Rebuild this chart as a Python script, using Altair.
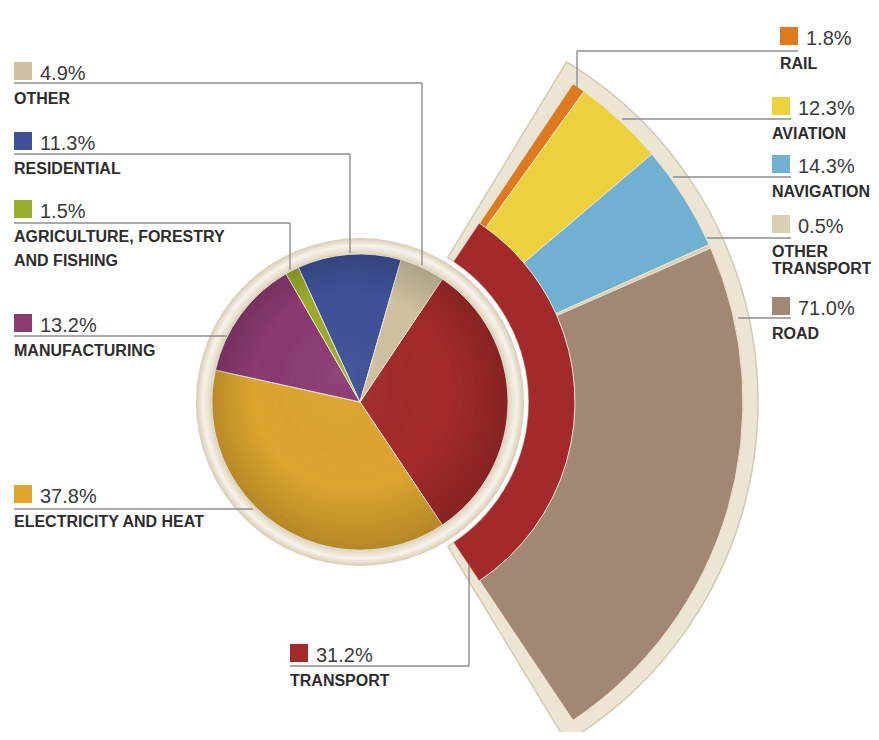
import math
import altair as alt
import pandas as pd

# ---------------- data ----------------
pie_cats = ["TRANSPORT", "ELECTRICITY AND HEAT", "MANUFACTURING",
            "AGRICULTURE, FORESTRY AND FISHING", "RESIDENTIAL", "OTHER"]
pie_vals = [31.2, 37.8, 13.2, 1.5, 11.3, 4.9]
pie_colors = ["#a32a2b", "#dca52e", "#8b3a72", "#9bab2b", "#3e5197", "#cfc1a1"]

fan_cats = ["RAIL", "AVIATION", "NAVIGATION", "OTHER TRANSPORT", "ROAD"]
fan_vals = [1.8, 12.3, 14.3, 0.5, 71.0]
fan_colors = ["#de7a1e", "#ecd13c", "#70b1d1", "#d9cfb3", "#a28873"]

# label texts
lab_pct = ["4.9%", "11.3%", "1.5%", "13.2%", "37.8%", "31.2%",
           "1.8%", "12.3%", "14.3%", "0.5%", "71.0%"]
lab_lines = [["OTHER"], ["RESIDENTIAL"], ["AGRICULTURE, FORESTRY", "AND FISHING"],
             ["MANUFACTURING"], ["ELECTRICITY AND HEAT"], ["TRANSPORT"],
             ["RAIL"], ["AVIATION"], ["NAVIGATION"], ["OTHER", "TRANSPORT"], ["ROAD"]]
lab_colors = ["#cfc1a1", "#3e5197", "#9bab2b", "#8b3a72", "#dca52e", "#a32a2b",
              "#de7a1e", "#ecd13c", "#70b1d1", "#d9cfb3", "#a28873"]

# ---------------- layout (page pixels) ----------------
M = 8
CX, CY = 360 - M, 402 - M
PIE_R, RIM_R = 148, 164
BAND_R0, BAND_R1 = 169, 215
FAN_R1 = 383
FRAME_R0, FRAME_R1 = 169, 398

lab_sx = [14, 14, 14, 14, 14, 290, 780, 772, 772, 772, 772]
lab_base = [80, 150, 218, 332, 503, 662, 45, 115, 173, 233, 315]
lab_gap2 = [24, 24, 24, 24, 24, 24, 17, 17, 17, 17, 17]
lab_leader = [
    [(14, 83), (422, 83), (422, 265)],
    [(14, 154), (350, 154), (350, 253)],
    [(14, 223), (290, 223), (290, 270)],
    [(14, 336), (227, 336)],
    [(14, 509), (253, 509)],
    [(290, 666), (469, 666), (469, 565)],
    [(798, 51), (577, 51), (577, 87)],
    [(791, 119), (622, 119)],
    [(791, 177), (673, 177)],
    [(791, 238), (707, 238)],
    [(791, 318), (738, 318)],
]

total = sum(pie_vals)
span = 2 * math.pi * pie_vals[0] / total
T0 = math.pi / 2 - span / 2
T1 = math.pi / 2 + span / 2
EXT = math.radians(2.5)

pie_df = pd.DataFrame({"cat": pie_cats, "val": pie_vals, "ord": list(range(len(pie_cats)))})
fan_df = pd.DataFrame({"cat": fan_cats, "val": fan_vals, "ord": list(range(len(fan_cats)))})
one = pd.DataFrame({"k": [0]})

center = dict(x=alt.value(CX), y=alt.value(CY))

# fan frame
frame = alt.Chart(one).mark_arc(
    innerRadius=FRAME_R0, outerRadius=FRAME_R1, theta=T0 - EXT, theta2=T1 + EXT,
    fill="#ece5d3", stroke="#d3c9b0", strokeWidth=1.5
).encode(**center)

band = alt.Chart(pie_df).transform_filter(alt.datum.cat == "TRANSPORT").mark_arc(
    innerRadius=BAND_R0, outerRadius=BAND_R1, theta=T0, theta2=T1, stroke="#b23030", strokeWidth=0.5
).encode(color=alt.Color("cat:N", scale=alt.Scale(domain=pie_cats, range=pie_colors), legend=None), **center)

fan = alt.Chart(fan_df).mark_arc(
    innerRadius=BAND_R1, outerRadius=FAN_R1, stroke="#ece4d0", strokeWidth=1
).encode(
    theta=alt.Theta("val:Q", stack=True,
                    scale=alt.Scale(domain=[0, sum(fan_vals)], range=[T0, T1])),
    color=alt.Color("cat:N", scale=alt.Scale(domain=fan_cats, range=fan_colors), legend=None),
    order=alt.Order("ord:Q"),
    **center,
)

rim_grad = alt.RadialGradient(
    gradient="radial", x1=0.5, y1=0.5, x2=0.5, y2=0.5, r1=0, r2=0.5,
    stops=[
        alt.GradientStop(color="#cfc5ad", offset=0.89),
        alt.GradientStop(color="#e6dfcc", offset=0.92),
        alt.GradientStop(color="#f7f3ea", offset=0.955),
        alt.GradientStop(color="#d6ccb3", offset=1.0),
    ],
)
pie_rim = alt.Chart(one).mark_arc(
    innerRadius=PIE_R - 2, outerRadius=RIM_R, theta=0, theta2=2 * math.pi, fill=rim_grad
).encode(**center)

pie = alt.Chart(pie_df).mark_arc(
    outerRadius=PIE_R, stroke="#eee6d4", strokeWidth=1
).encode(
    theta=alt.Theta("val:Q", stack=True,
                    scale=alt.Scale(domain=[0, total], range=[T0, T0 + 2 * math.pi])),
    color=alt.Color("cat:N", scale=alt.Scale(domain=pie_cats, range=pie_colors), legend=None),
    order=alt.Order("ord:Q"),
    **center,
)

shade = alt.RadialGradient(
    gradient="radial", x1=0.42, y1=0.4, x2=0.5, y2=0.5, r1=0, r2=0.55,
    stops=[
        alt.GradientStop(color="rgba(255,255,255,0.05)", offset=0),
        alt.GradientStop(color="rgba(0,0,0,0)", offset=0.6),
        alt.GradientStop(color="rgba(0,0,0,0.22)", offset=1.0),
    ],
)
pie_shade = alt.Chart(one).mark_arc(
    outerRadius=PIE_R, theta=0, theta2=2 * math.pi, fill=shade
).encode(**center)

# leader lines
segs = []
for pts in lab_leader:
    for (xa, ya), (xb, yb) in zip(pts[:-1], pts[1:]):
        segs.append({"x": xa - M, "y": ya - M, "x2": xb - M, "y2": yb - M})
seg_df = pd.DataFrame(segs)
leaders = alt.Chart(seg_df).mark_rule(color="#8d8d8d", strokeWidth=1.4).encode(
    x=alt.X("x:Q", scale=None), y=alt.Y("y:Q", scale=None),
    x2="x2:Q", y2="y2:Q",
)

# swatches
sw_df = pd.DataFrame({
    "x": [s - M for s in lab_sx], "x2": [s + 18 - M for s in lab_sx],
    "y": [b - 18 - M for b in lab_base], "y2": [b - M for b in lab_base],
    "col": lab_colors,
})
swatches = alt.Chart(sw_df).mark_rect().encode(
    x=alt.X("x:Q", scale=None), x2="x2:Q",
    y=alt.Y("y:Q", scale=None), y2="y2:Q",
    color=alt.Color("col:N", scale=None),
)

pct_df = pd.DataFrame({
    "x": [s + 26 - M for s in lab_sx], "y": [b - M for b in lab_base], "t": lab_pct,
})
pct_text = alt.Chart(pct_df).mark_text(
    align="left", baseline="alphabetic", font="Liberation Sans", fontSize=20, color="#3a3a3a"
).encode(x=alt.X("x:Q", scale=None), y=alt.Y("y:Q", scale=None), text="t:N")

name_rows = []
for sx, b, gap, lines in zip(lab_sx, lab_base, lab_gap2, lab_lines):
    for i, ln in enumerate(lines):
        name_rows.append({"x": sx - M, "y": b + 24 + i * gap - M, "t": ln})
name_df = pd.DataFrame(name_rows)
name_text = alt.Chart(name_df).mark_text(
    align="left", baseline="alphabetic", font="Liberation Sans", fontSize=16,
    fontWeight="bold", color="#2d2d2d"
).encode(x=alt.X("x:Q", scale=None), y=alt.Y("y:Q", scale=None), text="t:N")

chart = alt.layer(
    frame, band, fan, pie_rim, pie, pie_shade, leaders, swatches, pct_text, name_text
).resolve_scale(
    theta="independent", color="independent"
).properties(
    width=863, height=724, padding=0, autosize="none", background="white"
).configure_view(strokeWidth=0)

chart.save("out.html", embed_options={"renderer": "svg", "actions": False})
